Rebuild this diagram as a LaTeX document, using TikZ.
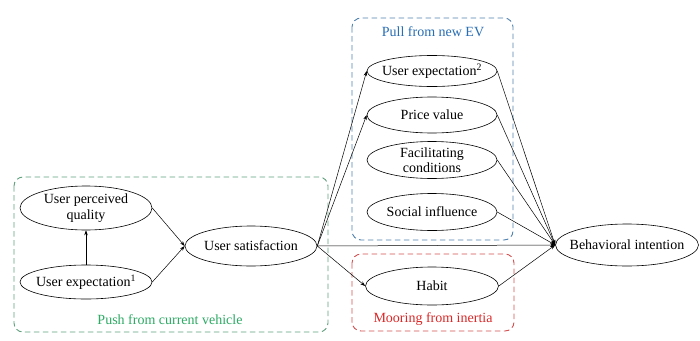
\documentclass[tikz,border=0pt]{standalone}
\usepackage{fontspec}
\setmainfont{Liberation Serif}
\usetikzlibrary{shapes.geometric,arrows.meta}
\definecolor{pushgreen}{RGB}{45,170,100}
\definecolor{pullblue}{RGB}{40,110,180}
\definecolor{moorred}{RGB}{220,40,40}
\definecolor{pushbox}{RGB}{95,160,125}
\definecolor{pullbox}{RGB}{80,130,175}
\definecolor{moorbox}{RGB}{210,80,80}
\tikzset{
  ell/.style={ellipse,draw,line width=0.6pt,inner sep=0pt,minimum width=132pt,minimum height=36pt},
  lbl/.style={align=center,inner sep=0pt,font=\fontsize{14}{15.5}\selectfont},
  conn/.style={draw,line width=0.5pt,-{Stealth[length=5pt,width=3.5pt]}},
  grpbox/.style={dashed,dash pattern=on 5.5pt off 3.5pt,rounded corners=9pt,line width=0.9pt},
  grplabel/.style={font=\fontsize{14}{15.5}\selectfont}
}
\begin{document}
\begin{tikzpicture}[x=1pt,y=-1pt]
\path[use as bounding box,fill=white] (0,0) rectangle (700,340);
% group boxes
\draw[grpbox,pushbox] (14,177) rectangle (328,332);
\draw[grpbox,pullbox] (352,18) rectangle (513,240);
\draw[grpbox,moorbox] (352,254) rectangle (514,331);
\node[grplabel,text=pushgreen] (lpush) at (170,320) {Push from current vehicle};
\node[grplabel,text=pullblue] (lpull) at (433,32) {Pull from new EV};
\node[grplabel,text=moorred] (lmoor) at (433,319) {Mooring from inertia};
% nodes
\node[ell,minimum height=44pt,label={[lbl]center:{User perceived\\quality}}] (upq) at (86,208) {};
\node[ell,minimum height=34pt,label={[lbl]center:{User expectation\textsuperscript{1}}}] (ue1) at (86,282) {};
\node[ell,minimum height=40pt,label={[lbl]center:{User satisfaction}}] (us) at (251,246) {};
\node[ell,minimum width=130pt,minimum height=31pt,label={[lbl]center:{User expectation\textsuperscript{2}}}] (ue2) at (432,71) {};
\node[ell,minimum width=130pt,minimum height=36pt,label={[lbl]center:{Price value}}] (pv) at (432,115) {};
\node[ell,minimum width=130pt,minimum height=37pt,label={[lbl]center:{Facilitating\\conditions}}] (fc) at (432,160) {};
\node[ell,minimum width=130pt,minimum height=37pt,label={[lbl]center:{Social influence}}] (si) at (432,212) {};
\node[ell,minimum width=133pt,minimum height=38pt,label={[lbl]center:{Habit}}] (hab) at (432,286) {};
\node[ell,minimum width=143pt,minimum height=42pt,label={[lbl]center:{Behavioral intention}}] (bi) at (627,245) {};
% connectors
\draw[conn] (ue1.north) -- (upq.south);
\draw[conn] (upq.east) -- (us.west);
\draw[conn] (ue1.east) -- (us.west);
\draw[conn] (us.east) -- (ue2.west);
\draw[conn] (us.east) -- (pv.west);
\draw[conn] (us.east) -- (hab.west);
\draw[conn] (us.east) -- (bi.west);
\draw[conn] (ue2.east) -- (bi.west);
\draw[conn] (pv.east) -- (bi.west);
\draw[conn] (fc.east) -- (bi.west);
\draw[conn] (si.east) -- (bi.west);
\draw[conn] (hab.east) -- (bi.west);
\end{tikzpicture}
\end{document}
